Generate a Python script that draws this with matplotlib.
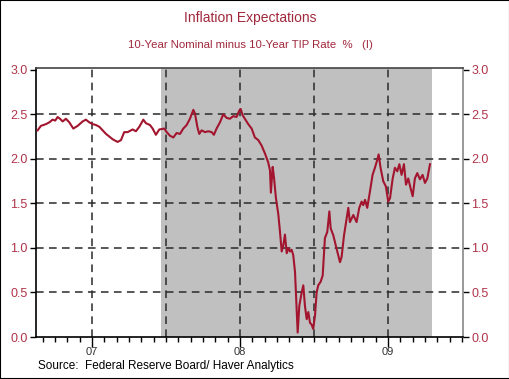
import numpy as np
import matplotlib
matplotlib.use("Agg")
import matplotlib.pyplot as plt
from matplotlib.patches import Rectangle

plt.rcParams['font.family'] = ['Liberation Sans', 'DejaVu Sans']

# decimal years and spread (%)
years = [2006.633, 2006.655, 2006.689, 2006.712, 2006.734, 2006.752, 2006.768, 2006.784,
         2006.802, 2006.824, 2006.847, 2006.874, 2006.903, 2006.937, 2006.959, 2006.982,
         2007.005, 2007.027, 2007.050, 2007.072, 2007.095, 2007.117, 2007.140, 2007.173,
         2007.196, 2007.218, 2007.241, 2007.275, 2007.297, 2007.320, 2007.347, 2007.365,
         2007.392, 2007.410, 2007.432, 2007.455, 2007.489,
         2007.505, 2007.527, 2007.550, 2007.572, 2007.595, 2007.617, 2007.640, 2007.662,
         2007.685, 2007.696, 2007.712, 2007.725, 2007.741, 2007.764, 2007.786, 2007.809,
         2007.824, 2007.842, 2007.865, 2007.887, 2007.910, 2007.932, 2007.955, 2007.977,
         2007.995, 2008.005, 2008.018, 2008.041, 2008.056, 2008.079, 2008.101, 2008.124,
         2008.146,
         2008.169, 2008.191, 2008.203, 2008.209, 2008.221, 2008.230, 2008.243, 2008.259,
         2008.270, 2008.282, 2008.293, 2008.304, 2008.316, 2008.327, 2008.338, 2008.349,
         2008.360, 2008.372, 2008.383, 2008.390, 2008.401, 2008.417, 2008.428, 2008.439,
         2008.451, 2008.462, 2008.473, 2008.484, 2008.495, 2008.507, 2008.518, 2008.529,
         2008.545,
         2008.559, 2008.574, 2008.590, 2008.604, 2008.613, 2008.631, 2008.653, 2008.676,
         2008.687, 2008.703, 2008.721, 2008.732, 2008.743, 2008.766, 2008.788, 2008.806,
         2008.822, 2008.833, 2008.845, 2008.860, 2008.878, 2008.896, 2008.912, 2008.928,
         2008.937, 2008.950, 2008.968, 2008.986, 2009.002, 2009.014, 2009.032, 2009.047,
         2009.063, 2009.077, 2009.092, 2009.108, 2009.122, 2009.137, 2009.153, 2009.167,
         2009.182, 2009.198, 2009.216, 2009.234, 2009.250, 2009.266, 2009.284]
spread = [2.32, 2.37, 2.39, 2.41, 2.44, 2.43, 2.47, 2.45,
          2.42, 2.45, 2.41, 2.34, 2.37, 2.42, 2.44, 2.41,
          2.39, 2.38, 2.36, 2.32, 2.28, 2.25, 2.22, 2.19,
          2.21, 2.30, 2.30, 2.33, 2.31, 2.36, 2.44, 2.40,
          2.38, 2.34, 2.27, 2.33, 2.34,
          2.30, 2.26, 2.24, 2.29, 2.28, 2.34, 2.38, 2.45,
          2.55, 2.51, 2.36, 2.28, 2.32, 2.30, 2.31, 2.30,
          2.27, 2.34, 2.41, 2.50, 2.46, 2.45, 2.48, 2.47,
          2.54, 2.56, 2.49, 2.43, 2.39, 2.34, 2.24, 2.21,
          2.15,
          2.06, 1.96, 1.87, 1.62, 1.91, 1.79, 1.56, 1.38,
          1.19, 0.96, 1.03, 1.15, 0.94, 1.00, 0.96, 0.98,
          0.92, 0.73, 0.31, 0.05, 0.35, 0.50, 0.58, 0.35,
          0.20, 0.28, 0.16, 0.14, 0.09, 0.24, 0.50, 0.58,
          0.62,
          0.69, 1.11, 1.18, 1.41, 1.22, 1.14, 0.99, 0.84,
          0.90, 1.14, 1.33, 1.45, 1.29, 1.37, 1.29, 1.45,
          1.52, 1.48, 1.54, 1.45, 1.63, 1.82, 1.90, 1.99,
          2.05, 1.90, 1.75, 1.69, 1.52, 1.56, 1.78, 1.90,
          1.86, 1.94, 1.82, 1.94, 1.71, 1.78, 1.67, 1.58,
          1.78, 1.84, 1.77, 1.82, 1.73, 1.78, 1.94]

shade_start, shade_end = 2007.464, 2009.295
year_ticks = [2007, 2008, 2009]
year_labels = ['07', '08', '09']
y_ticks = [0.0, 0.5, 1.0, 1.5, 2.0, 2.5, 3.0]

red = '#a3152e'
label_red = '#b0344a'

fig = plt.figure(figsize=(5.10, 3.79), dpi=100)
ax = fig.add_axes([36/510, 42/379, 427/510, 269/379])

ax.axvspan(shade_start, shade_end, color='#c0c0c0', lw=0, zorder=0)

# grille en tirets
for y in y_ticks[1:-1]:
    ax.axhline(y, color='#2a2a2a', lw=1.1, ls=(0, (5, 3.5)), zorder=1)
for x in np.arange(2007, 2009.01, 0.5):
    ax.axvline(x, color='#2a2a2a', lw=1.1, ls=(0, (5, 3.5)), zorder=1)

ax.plot(years, spread, color=red, lw=1.5, zorder=3)

ax.set_xlim(2006.622, 2009.507)
ax.set_ylim(0, 3.02)

ax.set_yticks(y_ticks)
ax.set_yticklabels([f'{v:.1f}' for v in y_ticks])
ax.tick_params(axis='y', which='both', direction='out', length=4, width=1,
               left=True, right=True, labelleft=True, labelright=True,
               labelsize=9, labelcolor=label_red, pad=2)

ax.set_xticks(year_ticks)
ax.set_xticklabels(year_labels)
ax.set_xticks(np.arange(2006 + 8/12, 2009.51, 1/12), minor=True)
ax.tick_params(axis='x', which='major', direction='out', length=7.5, width=1,
               labelsize=8, labelcolor='#333333', pad=0)
ax.tick_params(axis='x', which='minor', direction='out', length=3.5, width=1)

for side in ['left', 'bottom']:
    ax.spines[side].set_color('black')
ax.spines['top'].set_color('#444444')
ax.spines['right'].set_color('#888888')
for s in ax.spines.values():
    s.set_linewidth(1.2)

fig.text(250/510, 1 - 18/379, 'Inflation Expectations', ha='center', va='center',
         fontsize=10, color='#a0283c')
fig.text(250/510, 1 - 45/379, '10-Year Nominal minus 10-Year TIP Rate  %   (I)',
         ha='center', va='center', fontsize=8.2, color='#a0283c')
fig.text(38/510, 1 - 366/379, 'Source:  Federal Reserve Board/ Haver Analytics',
         ha='left', va='center', fontsize=8.5, color='black')

fig.patches.append(Rectangle((0, 0), 1, 1, transform=fig.transFigure, fill=False,
                             edgecolor='black', lw=1.5))

fig.savefig('out.png', dpi=100)
